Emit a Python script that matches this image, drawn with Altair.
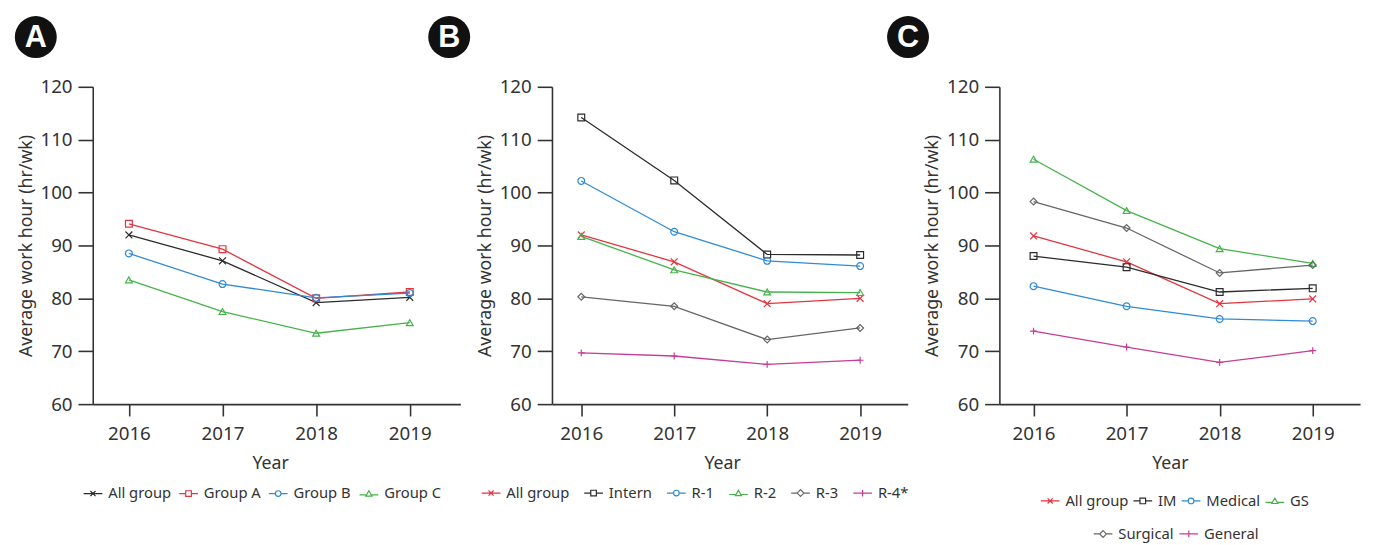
import altair as alt
import pandas as pd

years = [2016, 2017, 2018, 2019]

# Panel A
a_series = ["All group", "Group A", "Group B", "Group C"]
a_all = [92.0, 87.1, 79.2, 80.2]
a_ga = [94.1, 89.3, 80.0, 81.2]
a_gb = [88.5, 82.7, 80.1, 81.0]
a_gc = [83.5, 77.5, 73.4, 75.4]

# Panel B
b_series = ["All group", "Intern", "R-1", "R-2", "R-3", "R-4*"]
b_all = [92.0, 86.9, 79.0, 80.0]
b_intern = [114.2, 102.3, 88.3, 88.2]
b_r1 = [102.2, 92.6, 87.1, 86.1]
b_r2 = [91.7, 85.4, 81.2, 81.1]
b_r3 = [80.3, 78.5, 72.2, 74.4]
b_r4 = [69.7, 69.1, 67.5, 68.3]

# Panel C
c_series = ["All group", "IM", "Medical", "GS", "Surgical", "General"]
c_all = [91.8, 86.9, 79.0, 79.9]
c_im = [88.0, 85.9, 81.2, 81.9]
c_med = [82.3, 78.5, 76.1, 75.7]
c_gs = [106.3, 96.6, 89.4, 86.6]
c_surg = [98.3, 93.3, 84.8, 86.3]
c_gen = [73.8, 70.8, 67.9, 70.1]

RED = "#e3343f"
BLACK = "#2b2b2b"
BLUE = "#2f8bd6"
GREEN = "#45b34a"
GRAY = "#666666"
MAGENTA = "#c73c96"

MARK = {
    "x": "M-1,-1L1,1M-1,1L1,-1",
    "square": "square",
    "circle": "circle",
    "triangle": "triangle-up",
    "diamond": "diamond",
    "plus": "M-1,0H1M0,-1V1",
}
LEG = {
    "x": "M-1,0H1M-0.27,-0.27L0.27,0.27M-0.27,0.27L0.27,-0.27",
    "square": "M-1,0H-0.3M0.3,0H1M-0.3,-0.3H0.3V0.3H-0.3Z",
    "circle": "M-1,0H-0.3M0.3,0H1M0.3,0A0.3,0.3,0,1,1,-0.3,0A0.3,0.3,0,1,1,0.3,0",
    "triangle": "M-1,0.15H-0.26M0.26,0.15H1M0,-0.3L0.33,0.27L-0.33,0.27Z",
    "diamond": "M-1,0H-0.36M0.36,0H1M0,-0.36L0.36,0L0,0.36L-0.36,0Z",
    "plus": "M-1,0H1M0,-0.36V0.36",
}

FONT = "Noto Sans"


def frame(series, values):
    rows = []
    for s, vals in zip(series, values):
        for y, v in zip(years, vals):
            rows.append({"series": s, "year": y, "value": v})
    return pd.DataFrame(rows)


def legend_layer(df, X, Y, names, colors, shapes, lx, ly, pad):
    leg = alt.Legend(
        title=None, orient="none", legendX=lx, legendY=ly, direction="horizontal",
        columns=len(names), symbolSize=361, symbolStrokeWidth=1.2, labelOffset=5,
        columnPadding=pad, labelFont=FONT, labelFontSize=15, labelColor="#333333",
        symbolOpacity=1,
    )
    return alt.Chart(df).transform_filter("false").mark_point(filled=False, strokeWidth=1.2).encode(
        x=X, y=Y,
        stroke=alt.Stroke("series:N", scale=alt.Scale(domain=names, range=colors), legend=leg),
        shape=alt.Shape("series:N", scale=alt.Scale(domain=names, range=[LEG[s] for s in shapes]), legend=leg),
    )


def panel(series, values, colors, shapes, xdom, width, letter, lab_x, legends, title_x):
    df = frame(series, values)
    X = alt.X("year:Q", scale=alt.Scale(domain=xdom, nice=False, zero=False),
              axis=alt.Axis(values=years, format="d", tickSize=12, labelPadding=9,
                            title="Year", titlePadding=11, titleX=title_x, grid=False))
    Y = alt.Y("value:Q", scale=alt.Scale(domain=[60, 120], nice=False, zero=False),
              axis=alt.Axis(values=[60, 70, 80, 90, 100, 110, 120], tickSize=15, labelPadding=6,
                            title="Average work hour (hr/wk)", titlePadding=5, grid=False))
    color = alt.Color("series:N", scale=alt.Scale(domain=series, range=colors), legend=None)
    line = alt.Chart(df).mark_line(strokeWidth=1.3).encode(x=X, y=Y, color=color)
    pts = alt.Chart(df).mark_point(filled=False, size=48, strokeWidth=1.2, opacity=1).encode(
        x=X, y=Y, color=color,
        shape=alt.Shape("series:N", scale=alt.Scale(domain=series, range=[MARK[s] for s in shapes]), legend=None),
    )
    layers = [line, pts]
    for (idx, lx, ly, pad) in legends:
        layers.append(legend_layer(df, X, Y, [series[i] for i in idx], [colors[i] for i in idx],
                                   [shapes[i] for i in idx], lx, ly, pad))
    one = pd.DataFrame({"k": [0]})
    circ = alt.Chart(one).mark_circle(size=1810, color="#111111", opacity=1).encode(
        x=alt.value(lab_x), y=alt.value(-50.5))
    txt = alt.Chart(one).mark_text(text=letter, font="Liberation Sans", fontWeight="bold", fontSize=31,
                                   color="white", baseline="middle", align="center", dy=1).encode(
        x=alt.value(lab_x), y=alt.value(-50.5))
    layers += [circ, txt]
    return alt.layer(*layers).resolve_scale(shape="independent", stroke="independent").properties(
        width=width, height=322)


pA = panel(a_series, [a_all, a_ga, a_gb, a_gc], [BLACK, RED, BLUE, GREEN],
           ["x", "square", "circle", "triangle"], [2015.614, 2019.540], 373, "A", -57.8,
           [([0, 1, 2, 3], -10.3, 402, 5)], 180)
pB = panel(b_series, [b_all, b_intern, b_r1, b_r2, b_r3, b_r4],
           [RED, BLACK, BLUE, GREEN, GRAY, MAGENTA],
           ["x", "square", "circle", "triangle", "diamond", "plus"], [2015.685, 2019.512], 361, "B", -104.3,
           [([0, 1, 2, 3, 4, 5], -72.3, 401.5, 12)], 172.7)
pC = panel(c_series, [c_all, c_im, c_med, c_gs, c_surg, c_gen],
           [RED, BLACK, BLUE, GREEN, GRAY, MAGENTA],
           ["x", "square", "circle", "triangle", "diamond", "plus"], [2015.633, 2019.509], 366, "C", -92.7,
           [([0, 1, 2, 3], 41, 409.5, 2), ([4, 5], 94.7, 443, 2)], 173)

chart = alt.hconcat(pA, pB, pC, spacing=93, bounds="flush").resolve_scale(
    x="independent", y="independent", color="independent", shape="independent", stroke="independent"
).properties(
    padding={"left": 6, "top": 4, "right": 5, "bottom": 0}
).configure_view(stroke=None).configure_axis(
    domainColor="#333333", domainWidth=1.6, tickColor="#333333", tickWidth=1.6,
    labelFont=FONT, labelFontSize=19, labelColor="#333333",
    titleFont=FONT, titleFontSize=18, titleFontWeight="normal", titleColor="#333333",
)

chart.save("out.html", embed_options={"renderer": "svg", "actions": False})
